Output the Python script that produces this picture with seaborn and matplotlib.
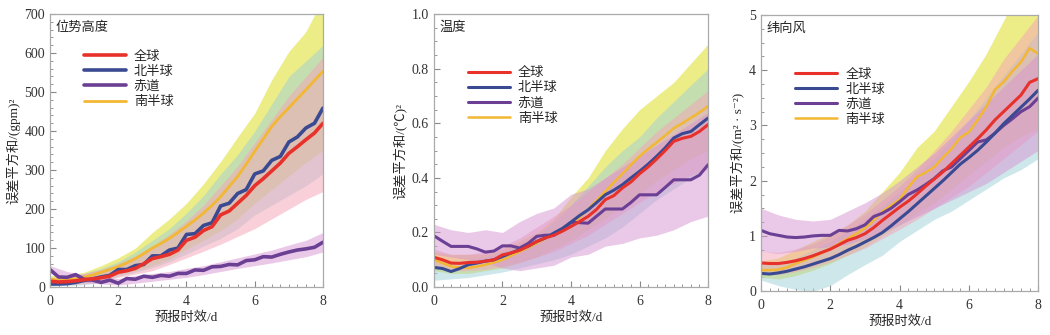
import numpy as np
import matplotlib
matplotlib.use("Agg")
import matplotlib.pyplot as plt
from matplotlib.ticker import MultipleLocator
import seaborn as sns

# forecast lead time (days)
lead = [i * 0.25 for i in range(33)]
lead_band = [i * 0.5 for i in range(17)]

names = ["全球", "北半球", "赤道", "南半球"]
titles = ["位势高度", "温度", "纬向风"]
ylabels = ["误差平方和/(gpm)²", "误差平方和/(℃)²", "误差平方和/(m² · s⁻²)"]

# geopotential height
gh_glb = [15, 13, 14, 16, 19, 21, 24, 28, 38, 42, 48, 60, 73, 78, 84, 95, 120, 128, 145, 155,
          185, 195, 215, 235, 260, 278, 298, 318, 343, 360, 378, 395, 420]
gh_nh = [8, 8, 9, 12, 17, 21, 26, 30, 45, 45, 55, 58, 80, 80, 95, 100, 135, 137, 158, 165,
         208, 215, 240, 250, 290, 298, 325, 335, 372, 385, 408, 420, 459]
gh_eq = [45, 26, 25, 32, 20, 18, 12, 18, 10, 22, 20, 28, 25, 30, 28, 35, 35, 44, 43, 52,
         53, 58, 57, 68, 70, 78, 77, 84, 90, 95, 98, 102, 115]
gh_sh = [20, 18, 19, 21, 26, 31, 38, 45, 53, 62, 73, 86, 100, 112, 125, 140, 156, 172, 190, 210,
         232, 258, 284, 315, 348, 380, 412, 437, 460, 483, 506, 530, 553]
gh_glb_lo = [5, 6, 8, 14, 25, 33, 42, 58, 75, 92, 110, 130, 150, 175, 200, 225, 245]
gh_glb_hi = [25, 28, 35, 45, 60, 80, 105, 135, 170, 210, 260, 310, 370, 430, 490, 540, 590]
gh_nh_lo = [3, 4, 6, 12, 28, 38, 50, 65, 85, 105, 125, 150, 185, 210, 235, 260, 290]
gh_nh_hi = [15, 20, 35, 48, 65, 90, 120, 150, 190, 235, 290, 340, 400, 470, 540, 580, 620]
gh_eq_lo = [35, 18, 12, 8, 5, 10, 15, 20, 25, 32, 40, 48, 55, 62, 70, 78, 90]
gh_eq_hi = [55, 40, 32, 25, 22, 30, 35, 40, 48, 55, 65, 75, 85, 95, 108, 120, 140]
gh_sh_lo = [12, 12, 14, 20, 32, 42, 55, 72, 98, 120, 145, 175, 215, 250, 285, 320, 350]
gh_sh_hi = [30, 30, 38, 55, 75, 100, 140, 175, 215, 265, 322, 385, 446, 532, 604, 655, 740]

# temperature
t_glb = [0.109, 0.100, 0.088, 0.087, 0.090, 0.091, 0.095, 0.100, 0.118, 0.125, 0.135, 0.150, 0.167,
         0.180, 0.190, 0.205, 0.222, 0.240, 0.259, 0.285, 0.320, 0.335, 0.363, 0.385, 0.415, 0.440,
         0.469, 0.500, 0.534, 0.545, 0.552, 0.570, 0.595]
t_nh = [0.072, 0.068, 0.057, 0.068, 0.082, 0.088, 0.095, 0.100, 0.112, 0.125, 0.137, 0.150, 0.167,
        0.180, 0.198, 0.215, 0.238, 0.262, 0.283, 0.310, 0.338, 0.355, 0.375, 0.400, 0.424, 0.450,
        0.479, 0.510, 0.546, 0.562, 0.570, 0.595, 0.619]
t_eq = [0.188, 0.168, 0.149, 0.149, 0.149, 0.140, 0.128, 0.132, 0.151, 0.151, 0.143, 0.160, 0.186,
        0.190, 0.190, 0.210, 0.237, 0.236, 0.234, 0.260, 0.286, 0.286, 0.286, 0.310, 0.338, 0.338,
        0.338, 0.365, 0.393, 0.393, 0.393, 0.410, 0.448]
t_sh = [0.100, 0.088, 0.076, 0.072, 0.070, 0.075, 0.082, 0.090, 0.100, 0.115, 0.130, 0.145, 0.161,
        0.178, 0.195, 0.210, 0.228, 0.255, 0.285, 0.318, 0.350, 0.383, 0.415, 0.448, 0.479, 0.505,
        0.530, 0.555, 0.582, 0.600, 0.620, 0.640, 0.662]
t_glb_lo = [0.07, 0.06, 0.06, 0.065, 0.075, 0.09, 0.11, 0.13, 0.16, 0.19, 0.23, 0.27, 0.31, 0.35, 0.38, 0.41, 0.43]
t_glb_hi = [0.14, 0.12, 0.12, 0.13, 0.15, 0.18, 0.22, 0.26, 0.30, 0.35, 0.40, 0.45, 0.51, 0.57, 0.62, 0.67, 0.72]
t_nh_lo = [0.025, 0.03, 0.035, 0.045, 0.055, 0.07, 0.085, 0.10, 0.12, 0.15, 0.18, 0.22, 0.27, 0.32, 0.36, 0.40, 0.44]
t_nh_hi = [0.10, 0.09, 0.10, 0.11, 0.13, 0.16, 0.19, 0.24, 0.30, 0.37, 0.44, 0.50, 0.55, 0.62, 0.68, 0.74, 0.80]
t_eq_lo = [0.12, 0.11, 0.10, 0.09, 0.07, 0.06, 0.07, 0.08, 0.11, 0.12, 0.15, 0.16, 0.18, 0.19, 0.21, 0.24, 0.26]
t_eq_hi = [0.23, 0.21, 0.20, 0.21, 0.20, 0.24, 0.27, 0.29, 0.34, 0.36, 0.40, 0.44, 0.48, 0.52, 0.56, 0.60, 0.64]
t_sh_lo = [0.06, 0.05, 0.05, 0.06, 0.07, 0.09, 0.11, 0.14, 0.17, 0.21, 0.25, 0.30, 0.34, 0.39, 0.43, 0.47, 0.50]
t_sh_hi = [0.13, 0.12, 0.12, 0.12, 0.14, 0.17, 0.20, 0.25, 0.33, 0.40, 0.50, 0.58, 0.65, 0.70, 0.75, 0.82, 0.89]

# zonal wind
u_glb = [0.51, 0.50, 0.50, 0.52, 0.55, 0.59, 0.64, 0.70, 0.76, 0.84, 0.92, 0.97, 1.04, 1.15, 1.28,
         1.40, 1.52, 1.63, 1.76, 1.90, 2.03, 2.16, 2.31, 2.46, 2.61, 2.76, 2.92, 3.10, 3.25, 3.40,
         3.55, 3.78, 3.85]
u_nh = [0.32, 0.31, 0.33, 0.36, 0.40, 0.44, 0.49, 0.54, 0.59, 0.66, 0.74, 0.81, 0.89, 0.97, 1.06,
        1.18, 1.31, 1.44, 1.58, 1.72, 1.86, 2.00, 2.15, 2.30, 2.42, 2.55, 2.70, 2.86, 3.03, 3.18,
        3.33, 3.48, 3.64]
u_eq = [1.10, 1.04, 1.01, 0.98, 0.97, 0.98, 1.00, 1.01, 1.01, 1.10, 1.09, 1.13, 1.20, 1.35, 1.41,
        1.50, 1.62, 1.75, 1.83, 1.93, 2.04, 2.18, 2.25, 2.40, 2.55, 2.70, 2.74, 2.86, 3.00, 3.12,
        3.25, 3.34, 3.50]
u_sh = [0.38, 0.38, 0.39, 0.43, 0.50, 0.56, 0.62, 0.69, 0.77, 0.86, 0.95, 1.04, 1.14, 1.28, 1.44,
        1.55, 1.66, 1.88, 2.07, 2.15, 2.25, 2.42, 2.58, 2.78, 2.88, 3.10, 3.34, 3.65, 3.79, 3.98,
        4.15, 4.40, 4.30]
u_glb_lo = [0.30, 0.30, 0.35, 0.43, 0.53, 0.65, 0.78, 0.95, 1.12, 1.30, 1.50, 1.70, 1.90, 2.15, 2.40, 2.65, 2.90]
u_glb_hi = [0.72, 0.70, 0.76, 0.86, 1.00, 1.20, 1.40, 1.65, 1.90, 2.20, 2.55, 2.90, 3.30, 3.70, 4.20, 4.60, 5.00]
u_nh_lo = [0.20, 0.10, 0.03, 0.00, 0.10, 0.30, 0.48, 0.65, 0.90, 1.10, 1.30, 1.45, 1.65, 1.85, 2.05, 2.20, 2.40]
u_nh_hi = [0.50, 0.50, 0.60, 0.75, 0.90, 1.10, 1.30, 1.55, 1.80, 2.10, 2.40, 2.75, 3.10, 3.50, 3.90, 4.30, 4.70]
u_eq_lo = [0.72, 0.68, 0.72, 0.78, 0.80, 0.85, 0.95, 1.05, 1.20, 1.35, 1.50, 1.65, 1.80, 1.95, 2.15, 2.35, 2.55]
u_eq_hi = [1.50, 1.38, 1.30, 1.27, 1.30, 1.45, 1.60, 1.78, 2.00, 2.25, 2.50, 2.80, 3.10, 3.40, 3.70, 4.00, 4.30]
u_sh_lo = [0.25, 0.22, 0.28, 0.38, 0.50, 0.65, 0.80, 1.00, 1.20, 1.40, 1.60, 1.85, 2.10, 2.35, 2.60, 2.80, 2.95]
u_sh_hi = [0.55, 0.60, 0.75, 0.90, 1.05, 1.20, 1.45, 1.80, 2.15, 2.60, 2.90, 3.35, 3.80, 4.30, 4.90, 5.50, 6.00]

line_colors = ["#e8312a", "#3a4a92", "#6b3f94", "#f2b733"]
band_colors = ["#f4a3b6", "#9fd0d8", "#d794d2", "#e2e240"]
band_alpha = [0.5, 0.5, 0.5, 0.62]

panels = [
    dict(lines=[gh_glb, gh_nh, gh_eq, gh_sh],
         bands=[(gh_glb_lo, gh_glb_hi), (gh_nh_lo, gh_nh_hi), (gh_eq_lo, gh_eq_hi), (gh_sh_lo, gh_sh_hi)],
         ylim=(0, 700), major=100, minor=20, fmt="{:.0f}", lw=[2.6, 2.6, 2.6, 2.0], leg_y=0.91),
    dict(lines=[t_glb, t_nh, t_eq, t_sh],
         bands=[(t_glb_lo, t_glb_hi), (t_nh_lo, t_nh_hi), (t_eq_lo, t_eq_hi), (t_sh_lo, t_sh_hi)],
         ylim=(0, 1.0), major=0.2, minor=0.05, fmt="{:.1f}", lw=[2.2, 2.2, 2.2, 1.8], leg_y=0.85),
    dict(lines=[u_glb, u_nh, u_eq, u_sh],
         bands=[(u_glb_lo, u_glb_hi), (u_nh_lo, u_nh_hi), (u_eq_lo, u_eq_hi), (u_sh_lo, u_sh_hi)],
         ylim=(0, 5), major=1, minor=0.25, fmt="{:.0f}", lw=[2.2, 2.2, 2.2, 1.8], leg_y=0.85),
]

sns.set_style("ticks")
plt.rcParams["font.family"] = ["Liberation Serif", "Noto Sans CJK SC", "DejaVu Sans"]
plt.rcParams["font.size"] = 9

fig = plt.figure(figsize=(10.5, 3.35), dpi=100)
axes_pos = [[0.0476, 0.143, 0.260, 0.815],
            [0.4133, 0.143, 0.261, 0.815],
            [0.7248, 0.131, 0.264, 0.824]]

band_order = [3, 1, 0, 2]
line_order = [3, 2, 1, 0]

for k, p in enumerate(panels):
    ax = fig.add_axes(axes_pos[k])
    for j in band_order:
        lo, hi = p["bands"][j]
        ax.fill_between(lead_band, lo, hi, color=band_colors[j], alpha=band_alpha[j], linewidth=0)
    for j in line_order:
        sns.lineplot(x=lead, y=p["lines"][j], ax=ax, color=line_colors[j],
                     linewidth=p["lw"][j], label=names[j])
    h, l = ax.get_legend_handles_labels()
    order = [l.index(n) for n in names]
    ax.legend([h[i] for i in order], names, loc="upper left",
              bbox_to_anchor=(0.08, p["leg_y"]), frameon=False, handlelength=3.2,
              handletextpad=0.6, labelspacing=0.22, fontsize=9.5)

    ax.set_xlim(0, 8)
    ax.set_ylim(*p["ylim"])
    ax.xaxis.set_major_locator(MultipleLocator(2))
    ax.xaxis.set_minor_locator(MultipleLocator(0.25))
    ax.yaxis.set_major_locator(MultipleLocator(p["major"]))
    ax.yaxis.set_minor_locator(MultipleLocator(p["minor"]))
    ax.set_yticklabels([p["fmt"].format(v) for v in ax.get_yticks()])
    ax.tick_params(which="both", direction="in", top=False, right=False, colors="#333333",
                   labelsize=10)
    ax.tick_params(axis="x", which="major", pad=6)
    ax.tick_params(which="major", length=4, color="#888888")
    ax.tick_params(which="minor", length=2.5, color="#888888")
    for s in ax.spines.values():
        s.set_color("#aaaaaa")
        s.set_linewidth(0.9)
    ax.set_xlabel("预报时效/d", fontsize=9.5, labelpad=2)
    ax.set_ylabel(ylabels[k], fontsize=9.5, labelpad=3)
    ax.text(0.02, 0.975, titles[k], transform=ax.transAxes, ha="left", va="top", fontsize=9.5)

fig.savefig("out.png", dpi=100)
